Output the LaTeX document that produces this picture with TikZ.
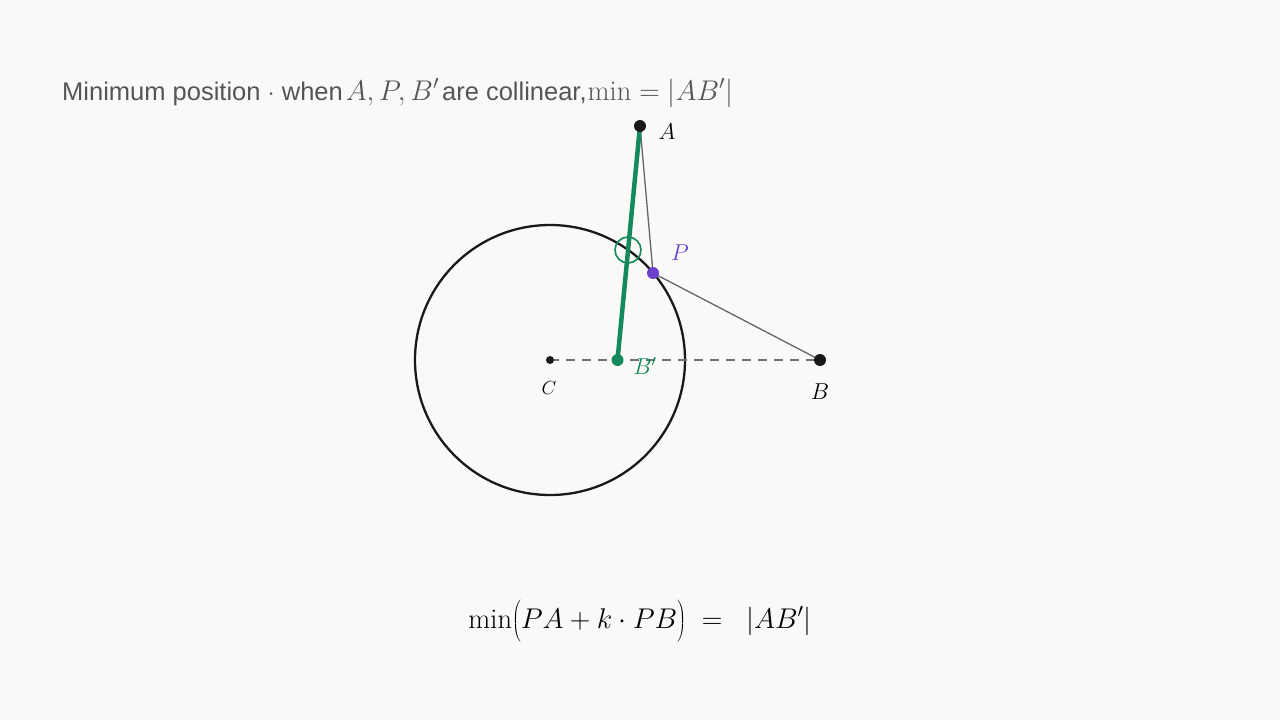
\RequirePackage{fix-cm}
\documentclass[tikz,border=0pt]{standalone}
\usepackage{fontspec}
\setsansfont{Liberation Sans}
\usetikzlibrary{positioning}
\definecolor{bgpaper}{HTML}{FAF9F7}
\definecolor{inkgray}{HTML}{555555}
\definecolor{refgreen}{HTML}{138A5E}
\definecolor{ptpurple}{HTML}{6A40C8}
\newcommand{\bigmath}[1]{{\fontsize{28.5}{30}\selectfont$#1$}}
\newcommand{\tallstrut}{\vrule width 0pt height 28pt depth 14pt}
\begin{document}
\begin{tikzpicture}[
    x=1pt, y=-1pt,
    dot/.style={circle, fill=black!90, inner sep=0pt, minimum size=12pt},
    smalldot/.style={circle, fill=black!90, inner sep=0pt, minimum size=8pt},
    lbl/.style={inner sep=0pt, font=\fontsize{23}{27}\selectfont},
    guide/.style={draw=black!60, line width=1.3pt},
    title/.style={anchor=base west, inner sep=0pt, text=inkgray, font=\fontsize{25.5}{30}\sffamily}
]

% Background and frame
\fill[bgpaper] (0,0) rectangle (1280,720);
\useasboundingbox (0,0) rectangle (1280,720);

% Title
\node[title] (heading) at (62,100) {Minimum position $\cdot$ when\kern3pt\bigmath{A, P, B'}\kern3pt are collinear,\kern1pt\bigmath{\min = |AB'|}};

% Points
\coordinate (pC) at (550,360);
\coordinate (pA) at (640,126);
\coordinate (pB) at (820,360);
\coordinate (pBp) at (617.5,360);
\coordinate (pP) at (653,273);
\coordinate (hit) at (628,250);

% Circle
\draw[line width=2.3pt, black!90] (pC) circle[radius=135];

% Connections - dashed axis and broken path
\draw[dashed, draw=black!55, line width=1.3pt, dash pattern=on 9pt off 7pt] (pC) -- (pB);
\draw[guide] (pA) -- (pP);
\draw[guide] (pP) -- (pB);

% Connections - straight segment A to B'
\draw[refgreen, line width=4.5pt] (pA) -- (pBp);
\draw[refgreen, line width=1.6pt] (hit) circle[radius=13];

% Dots
\node[dot] (dA) at (pA) {};
\node[dot] (dB) at (pB) {};
\node[smalldot] (dC) at (pC) {};
\node[dot, fill=refgreen] (dBp) at (pBp) {};
\node[dot, fill=ptpurple] (dP) at (pP) {};

% Labels
\node[lbl] (labA) at (667,132) {$A$};
\node[lbl] (labB) at (820,392) {$B$};
\node[lbl, font=\fontsize{19}{22}\selectfont] (labC) at (549,388) {$C$};
\node[lbl, text=refgreen] (labBp) at (645,366) {$B'$};
\node[lbl, text=ptpurple] (labP) at (680,253) {$P$};

% Result
\node[inner sep=0pt, font=\fontsize{28.5}{32}\selectfont] (result) at (640,621) {$\min\!\left(\tallstrut PA + k\cdot PB\right) \;=\;\; |AB'|$};

\end{tikzpicture}
\end{document}
